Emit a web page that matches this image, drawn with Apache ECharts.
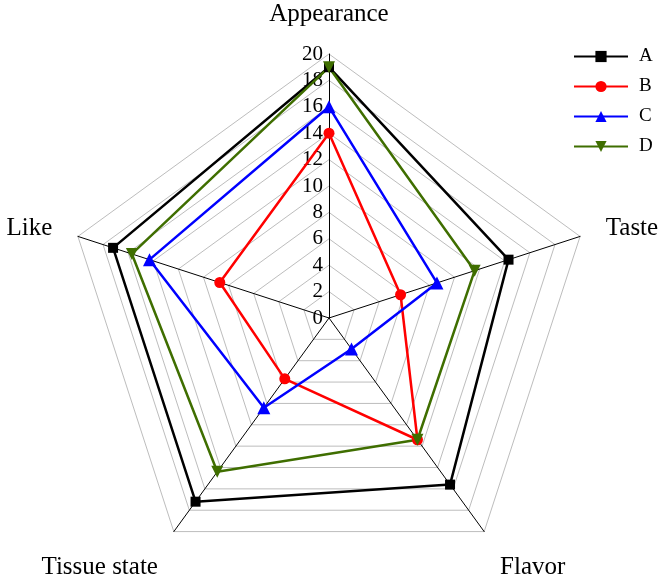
<!DOCTYPE html>
<html>
<head>
<meta charset="utf-8">
<script src="https://cdn.jsdelivr.net/npm/echarts@6/dist/echarts.min.js"></script>
<style>
html,body{margin:0;padding:0;background:#fff;}
#chart{width:667px;height:582px;}
</style>
</head>
<body>
<div id="chart"></div>
<script>
// Indicators in ECharts order (counter-clockwise from the top)
var indicators = ['Appearance', 'Like', 'Tissue state', 'Flavor', 'Taste'];
var axisMax = 20;
var tickStep = 2;
var seriesNames = ['A', 'B', 'C', 'D'];
var valuesA = [19, 17.2, 17.2, 15.6, 14.3];
var valuesB = [14, 8.7, 5.7, 11.4, 5.7];
var valuesC = [16, 14.3, 8.4, 2.9, 8.6];
var valuesD = [19, 15.7, 14.4, 11.4, 11.6];

var seriesValues = [valuesA, valuesB, valuesC, valuesD];
var colors = ['#000000', '#ff0000', '#0000ff', '#3f6e00'];
var symbols = ['rect', 'circle', 'triangle', 'path://M0,0 L10,0 L5,10 Z'];
var symbolSizes = [10, 11, 13, 12];
var serif = '"Liberation Serif", "Times New Roman", serif';
var bottomNames = ['Tissue state', 'Flavor'];

var chart = echarts.init(document.getElementById('chart'), null, {renderer: 'canvas'});

var series = [];
// Legend-only line series (give line+symbol legend icons)
seriesNames.forEach(function (n, i) {
  series.push({
    type: 'line', name: n, xAxisIndex: 0, yAxisIndex: 0, data: [],
    symbol: symbols[i], symbolSize: symbolSizes[i],
    itemStyle: {color: colors[i]}, lineStyle: {color: colors[i], width: 2.5},
    silent: true
  });
});
series.push({
  type: 'radar',
  radarIndex: 0,
  data: seriesNames.map(function (n, i) {
    return {
      name: n,
      value: seriesValues[i],
      symbol: symbols[i],
      symbolSize: symbolSizes[i],
      itemStyle: {color: colors[i]},
      lineStyle: {color: colors[i], width: 2.5}
    };
  })
});

chart.setOption({
  backgroundColor: '#ffffff',
  animation: false,
  legend: {
    data: seriesNames,
    orient: 'vertical',
    left: 568,
    top: 42,
    itemWidth: 54,
    itemHeight: 14,
    itemGap: 11,
    textStyle: {fontFamily: serif, fontSize: 19, color: '#000', padding: [0, 0, 0, 6]}
  },
  grid: {left: 329, top: 54, height: 264, width: 1, containLabel: false},
  xAxis: {type: 'value', show: false},
  yAxis: {
    type: 'value', min: 0, max: axisMax, interval: tickStep,
    axisLine: {show: false}, axisTick: {show: false}, splitLine: {show: false},
    axisLabel: {fontFamily: serif, fontSize: 21, color: '#000', margin: 6}
  },
  radar: {
    center: [329, 318],
    radius: 264,
    startAngle: 90,
    splitNumber: 10,
    shape: 'polygon',
    indicator: indicators.map(function (n) { return {name: n, min: 0, max: axisMax}; }),
    axisName: {
      color: '#000',
      fontFamily: serif,
      fontSize: 25,
      formatter: function (name) {
        return bottomNames.indexOf(name) >= 0 ? '{low|' + name + '}' : name;
      },
      rich: {
        low: {fontFamily: serif, fontSize: 25, color: '#000', padding: [28, 0, 0, 0]}
      }
    },
    nameGap: 27,
    axisLine: {lineStyle: {color: '#000', width: 1}},
    splitLine: {lineStyle: {color: '#bdbdbd', width: 1}},
    splitArea: {show: false},
    axisTick: {show: false},
    axisLabel: {show: false}
  },
  series: series
});
</script>
</body>
</html>
